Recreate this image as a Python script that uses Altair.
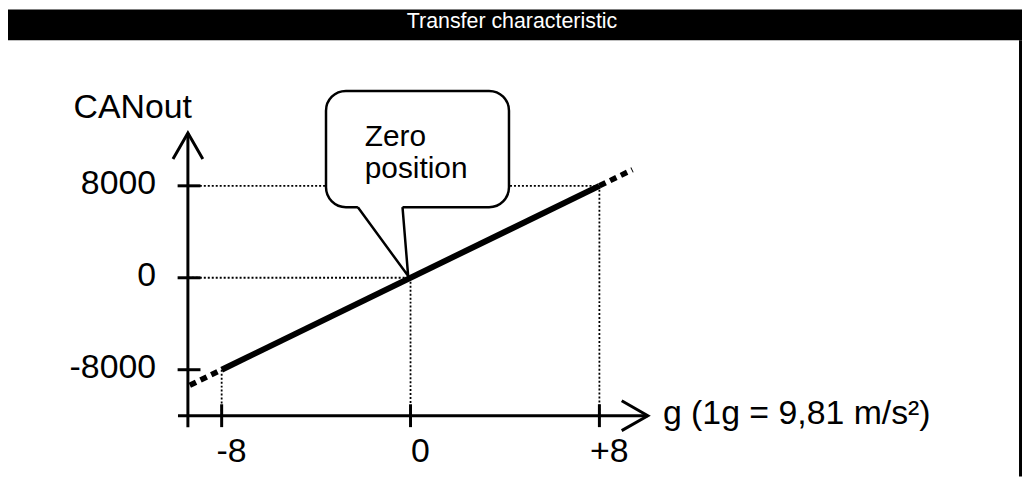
import altair as alt
import pandas as pd

# ---------------- content ----------------
TITLE = "Transfer characteristic"
Y_TITLE = "CANout"
X_TITLE = "g (1g = 9,81 m/s²)"
BUBBLE_LINES = ["Zero", "position"]

X_TICKS = [-8, 0, 8]
X_TICK_LABELS = ["-8", "0", "+8"]
Y_TICKS = [-8000, 0, 8000]
Y_TICK_LABELS = ["-8000", "0", "8000"]

LINE_G = [-8, 8]
LINE_CAN = [-8000, 8000]
EXT_LOW_G = [-9.35, -8]
EXT_LOW_CAN = [-9350, -8000]
EXT_HIGH_G = [8, 9.4]
EXT_HIGH_CAN = [8000, 9400]

# ---------------- layout (in data units of the scales) ----------------
W, H = 1020, 470
FONT = "Liberation Sans"
X_DOMAIN = [-17.05, 25.9]
Y_DOMAIN = [-17300, 23350]
AXIS_G = -9.43
AXIS_CAN = -12000
Y_AXIS_TOP = 12600
Y_AXIS_BOTTOM = -13000
X_AXIS_LEFT = -9.85
X_AXIS_RIGHT = 10.05
Y_LABEL_G = -10.78
X_LABEL_CAN = -16000
Y_TITLE_POS = (-9.26, 13924)
X_TITLE_POS = (10.69, -12700)
BOX_G = (-3.58, 4.17)
BOX_CAN = (6141, 16259)
POINTER_G = [-2.23, -0.1, -0.34]
POINTER_CAN = [6141, 150, 6141]
BUBBLE_TEXT_G = -1.94
BUBBLE_TEXT_CAN = [11500, 8650]

xs = alt.Scale(domain=X_DOMAIN, nice=False, zero=False)
ys = alt.Scale(domain=Y_DOMAIN, nice=False, zero=False)


def X(f):
    return alt.X(f, type="quantitative", scale=xs, axis=None)


def Y(f):
    return alt.Y(f, type="quantitative", scale=ys, axis=None)


# dotted guide lines
guide_rows = []
for g, c in zip(X_TICKS, Y_TICKS):
    guide_rows.append({"x1": g, "y1": c, "x2": g, "y2": AXIS_CAN})
    if c >= 0:
        guide_rows.append({"x1": AXIS_G, "y1": c, "x2": g, "y2": c})
guides = alt.Chart(pd.DataFrame(guide_rows)).mark_rule(
    color="black", strokeWidth=1.8, strokeDash=[2, 2]
).encode(x=X("x1"), y=Y("y1"), x2="x2:Q", y2="y2:Q")

# axis lines
axes_df = pd.DataFrame([
    {"x1": AXIS_G, "y1": Y_AXIS_BOTTOM, "x2": AXIS_G, "y2": Y_AXIS_TOP},
    {"x1": X_AXIS_LEFT, "y1": AXIS_CAN, "x2": X_AXIS_RIGHT, "y2": AXIS_CAN},
])
axes = alt.Chart(axes_df).mark_rule(color="black", strokeWidth=3).encode(
    x=X("x1"), y=Y("y1"), x2="x2:Q", y2="y2:Q"
)

# arrow heads
up_arrow = alt.Chart(pd.DataFrame({"g": [AXIS_G], "c": [Y_AXIS_TOP]})).mark_point(
    shape="M -1 1.75 L 0 0 L 1 1.75", filled=False, size=900, strokeWidth=3,
    color="black", opacity=1, strokeJoin="miter"
).encode(x=X("g"), y=Y("c"))
right_arrow = alt.Chart(pd.DataFrame({"g": [X_AXIS_RIGHT], "c": [AXIS_CAN]})).mark_point(
    shape="M -1.75 -1 L 0 0 L -1.75 1", filled=False, size=900, strokeWidth=3,
    color="black", opacity=1, strokeJoin="miter"
).encode(x=X("g"), y=Y("c"))

# tick marks
y_ticks = alt.Chart(pd.DataFrame({"g": [AXIS_G] * 3, "c": Y_TICKS})).mark_point(
    shape="M -0.9 0 L 1.1 0", filled=False, size=529, strokeWidth=3,
    color="black", opacity=1
).encode(x=X("g"), y=Y("c"))
x_ticks = alt.Chart(pd.DataFrame({"g": X_TICKS, "c": [AXIS_CAN] * 3})).mark_point(
    shape="M 0 -1 L 0 1", filled=False, size=529, strokeWidth=3,
    color="black", opacity=1
).encode(x=X("g"), y=Y("c"))

# characteristic line and its dotted extensions
main_line = alt.Chart(pd.DataFrame({"g": LINE_G, "c": LINE_CAN})).mark_line(
    color="black", strokeWidth=6, strokeCap="butt"
).encode(x=X("g"), y=Y("c"))
ext_df = pd.DataFrame({
    "g": EXT_LOW_G + EXT_HIGH_G,
    "c": EXT_LOW_CAN + EXT_HIGH_CAN,
    "seg": ["low", "low", "high", "high"],
})
extensions = alt.Chart(ext_df).mark_line(
    color="black", strokeWidth=5.5, strokeDash=[7, 5], strokeCap="butt"
).encode(x=X("g"), y=Y("c"), detail="seg:N")

# speech bubble
box = alt.Chart(pd.DataFrame({"g1": [BOX_G[0]], "g2": [BOX_G[1]],
                              "c1": [BOX_CAN[0]], "c2": [BOX_CAN[1]]})).mark_rect(
    fill="white", stroke="black", strokeWidth=2.5, cornerRadius=20
).encode(x=X("g1"), x2="g2:Q", y=Y("c1"), y2="c2:Q")
patch = alt.Chart(pd.DataFrame({"g1": [POINTER_G[0]], "g2": [POINTER_G[2]],
                                "c": [POINTER_CAN[0]]})).mark_rule(
    color="white", strokeWidth=5
).encode(x=X("g1"), x2="g2:Q", y=Y("c"))
pointer = alt.Chart(pd.DataFrame({"g": POINTER_G, "c": POINTER_CAN,
                                  "i": [0, 1, 2]})).mark_line(
    color="black", strokeWidth=2.5, strokeJoin="miter"
).encode(x=X("g"), y=Y("c"), order="i:Q")
bubble_text = alt.Chart(pd.DataFrame({"t": BUBBLE_LINES, "g": [BUBBLE_TEXT_G] * 2,
                                      "c": BUBBLE_TEXT_CAN})).mark_text(
    align="left", baseline="alphabetic", fontSize=30, font=FONT, color="black"
).encode(x=X("g"), y=Y("c"), text="t:N")

# labels
y_labels = alt.Chart(pd.DataFrame({"t": Y_TICK_LABELS, "c": Y_TICKS,
                                   "g": [Y_LABEL_G] * 3})).mark_text(
    align="right", baseline="middle", fontSize=34, font=FONT, color="black", dy=-2
).encode(x=X("g"), y=Y("c"), text="t:N")
x_labels = alt.Chart(pd.DataFrame({"t": X_TICK_LABELS, "g": X_TICKS,
                                   "c": [X_LABEL_CAN] * 3})).mark_text(
    align="center", baseline="alphabetic", fontSize=34, font=FONT, color="black", dx=10
).encode(x=X("g"), y=Y("c"), text="t:N")
y_title = alt.Chart(pd.DataFrame({"t": [Y_TITLE], "g": [Y_TITLE_POS[0]],
                                  "c": [Y_TITLE_POS[1]]})).mark_text(
    align="right", baseline="alphabetic", fontSize=34, font=FONT, color="black"
).encode(x=X("g"), y=Y("c"), text="t:N")
x_title = alt.Chart(pd.DataFrame({"t": [X_TITLE], "g": [X_TITLE_POS[0]],
                                  "c": [X_TITLE_POS[1]]})).mark_text(
    align="left", baseline="alphabetic", fontSize=34, font=FONT, color="black"
).encode(x=X("g"), y=Y("c"), text="t:N")

# header bar and frame
title_df = pd.DataFrame({"t": [TITLE]})
header = alt.Chart(title_df).mark_rect(color="black").encode(
    x=alt.value(0), x2=alt.value(W), y=alt.value(0), y2=alt.value(31)
)
header_text = alt.Chart(title_df).mark_text(
    color="white", fontSize=21.5, font=FONT, align="center", baseline="middle"
).encode(x=alt.value(507), y=alt.value(13), text="t:N")
frame = alt.Chart(title_df).mark_rule(color="black", strokeWidth=3).encode(
    x=alt.value(W - 1.5), y=alt.value(31), y2=alt.value(H)
)

chart = alt.layer(
    guides, axes, up_arrow, right_arrow, y_ticks, x_ticks,
    extensions, main_line, box, patch, pointer, bubble_text,
    y_labels, x_labels, y_title, x_title,
    header, header_text, frame,
).properties(
    width=W, height=H, autosize=alt.AutoSizeParams(type="none"), padding=0,
    background="white",
).configure_view(strokeWidth=0)

chart.save("out.html", embed_options={"renderer": "svg", "actions": False})
